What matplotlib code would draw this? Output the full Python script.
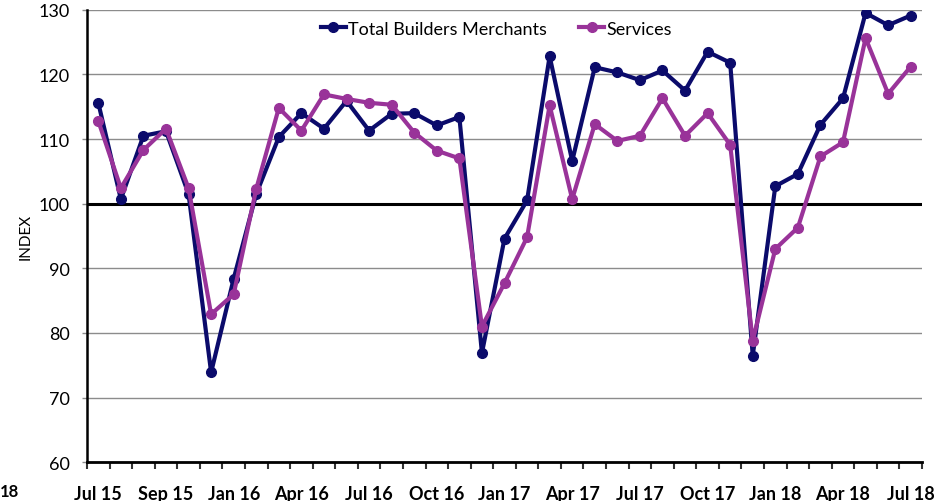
import numpy as np
import matplotlib.pyplot as plt

plt.rcParams['font.family'] = ['Lato', 'DejaVu Sans']

months = ['Jul 15', 'Aug 15', 'Sep 15', 'Oct 15', 'Nov 15', 'Dec 15',
          'Jan 16', 'Feb 16', 'Mar 16', 'Apr 16', 'May 16', 'Jun 16',
          'Jul 16', 'Aug 16', 'Sep 16', 'Oct 16', 'Nov 16', 'Dec 16',
          'Jan 17', 'Feb 17', 'Mar 17', 'Apr 17', 'May 17', 'Jun 17',
          'Jul 17', 'Aug 17', 'Sep 17', 'Oct 17', 'Nov 17', 'Dec 17',
          'Jan 18', 'Feb 18', 'Mar 18', 'Apr 18', 'May 18', 'Jun 18',
          'Jul 18']

total_bm = [115.6, 100.7, 110.5, 111.2, 101.5, 73.9, 88.4, 101.5, 110.3, 114.0,
            111.6, 115.9, 111.3, 113.9, 114.0, 112.1, 113.4, 76.9, 94.6, 100.5,
            122.8, 106.6, 121.1, 120.3, 119.1, 120.6, 117.5, 123.5, 121.8, 76.5,
            102.7, 104.6, 112.2, 116.3, 129.5, 127.6, 129.1]

services = [112.8, 102.4, 108.3, 111.6, 102.4, 82.9, 86.0, 102.3, 114.8, 111.3,
            116.9, 116.2, 115.6, 115.3, 111.0, 108.2, 107.0, 81.0, 87.7, 94.8,
            115.2, 100.7, 112.3, 109.7, 110.5, 116.3, 110.5, 114.0, 109.1, 78.8,
            93.0, 96.3, 107.3, 109.5, 125.6, 117.0, 121.2]

# label shown on every third month (source chart says "Sep 15" at Oct 15)
tick_labels = {0: 'Jul 15', 3: 'Sep 15', 6: 'Jan 16', 9: 'Apr 16', 12: 'Jul 16',
               15: 'Oct 16', 18: 'Jan 17', 21: 'Apr 17', 24: 'Jul 17',
               27: 'Oct 17', 30: 'Jan 18', 33: 'Apr 18', 36: 'Jul 18'}

navy = '#0b0b6b'
purple = '#993399'

fig = plt.figure(figsize=(9.5, 5.02), dpi=100)
ax = fig.add_axes([87/950, 1 - 463.3/502, (922 - 87)/950, (463.3 - 10.7)/502])

x = np.arange(len(months))
ax.plot(x, total_bm, color=navy, lw=3, marker='o', ms=7, label='Total Builders Merchants', zorder=3)
ax.plot(x, services, color=purple, lw=3, marker='o', ms=7, label='Services', zorder=4)
ax.axhline(100, color='black', lw=2.2, zorder=2)

ax.set_xlim(-0.5, len(months) - 0.5)
ax.set_ylim(60, 130)
ax.set_yticks(np.arange(60, 131, 10))
ax.yaxis.grid(True, color='#8c8c8c', lw=1)
ax.set_axisbelow(True)

ax.set_xticks(np.arange(-0.5, len(months)), minor=False)
ax.set_xticklabels([])
ax.set_xticks(list(tick_labels.keys()), minor=True)
ax.set_xticklabels(list(tick_labels.values()), minor=True, fontweight='bold', fontsize=13)
ax.tick_params(axis='x', which='major', direction='out', length=5, width=1.5, color='#333333')
ax.tick_params(axis='x', which='minor', length=0, pad=16)
ax.tick_params(axis='y', direction='out', length=3.5, width=1, color='#8c8c8c', labelsize=13, pad=9)

for s in ['top', 'right']:
    ax.spines[s].set_visible(False)
ax.spines['left'].set_linewidth(1.8)
ax.spines['bottom'].set_linewidth(2)

ax.set_ylabel('INDEX', fontsize=11, labelpad=4)

ax.legend(loc='upper center', bbox_to_anchor=(0.49, 1.0), ncol=2, frameon=False,
          fontsize=13, handlelength=1.4, handletextpad=0.1, columnspacing=1.8,
          borderaxespad=0.2)

# cropped label from the neighbouring chart
fig.text(0.0, 1 - 492/502, '18', fontsize=12, fontweight='bold', va='center', ha='left')

fig.savefig('out.png', dpi=100)
